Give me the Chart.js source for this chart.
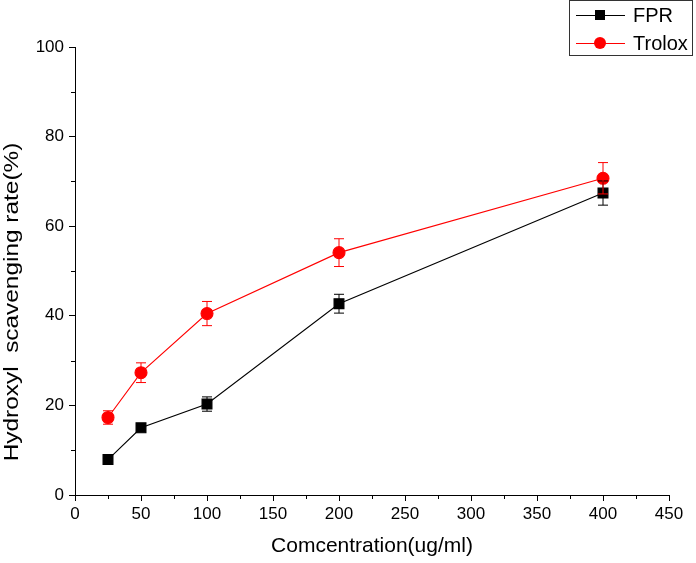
<!DOCTYPE html>
<html>
<head>
<meta charset="utf-8">
<script src="https://cdn.jsdelivr.net/npm/chart.js@4/dist/chart.umd.min.js"></script>
<style>
  html, body { margin: 0; padding: 0; background: #fff; }
  #wrap { width: 696px; height: 563px; }
</style>
</head>
<body>
<div id="wrap"><canvas id="chart" width="696" height="563"></canvas></div>
<script>
// concentrations (ug/ml)
const concentrations = [25, 50, 100, 200, 400];
// hydroxyl scavenging rate (%)
const fprValues = [7.9, 15.0, 20.3, 42.7, 67.4];
const fprErrors = [0.3, 0.5, 1.6, 2.1, 2.7];
const troloxValues = [17.3, 27.3, 40.5, 54.1, 70.7];
const troloxErrors = [1.5, 2.2, 2.7, 3.1, 3.5];

const xTicks = [0, 50, 100, 150, 200, 250, 300, 350, 400, 450];
const yTicks = [0, 20, 40, 60, 80, 100];
const yTitle = 'Hydroxyl  scavenging rate(%)';

const FONT = 'Liberation Sans, Arial, sans-serif';

const toPoints = (vals) => concentrations.map((c, i) => ({ x: c, y: vals[i] }));

// error bars drawn through the chart scales
const errorBars = {
    id: 'errorBars',
    afterDatasetsDraw(chart) {
        const ctx = chart.ctx;
        const xs = chart.scales.x, ys = chart.scales.y;
        chart.data.datasets.forEach((ds) => {
            ctx.save();
            ctx.strokeStyle = ds.borderColor;
            ctx.lineWidth = 1;
            ds.data.forEach((p, i) => {
                const e = ds.errors[i];
                const px = xs.getPixelForValue(p.x);
                const top = ys.getPixelForValue(p.y + e);
                const bot = ys.getPixelForValue(p.y - e);
                ctx.beginPath();
                ctx.moveTo(px, top); ctx.lineTo(px, bot);
                ctx.moveTo(px - 5, top); ctx.lineTo(px + 5, top);
                ctx.moveTo(px - 5, bot); ctx.lineTo(px + 5, bot);
                ctx.stroke();
            });
            ctx.restore();
        });
    }
};

// minor ticks between the labelled ones, plus the stretched y title
const axisExtras = {
    id: 'axisExtras',
    afterDraw(chart) {
        const ctx = chart.ctx;
        const xs = chart.scales.x, ys = chart.scales.y;
        const area = chart.chartArea;
        ctx.save();
        ctx.strokeStyle = '#000';
        ctx.lineWidth = 1;
        ctx.beginPath();
        for (let v = 25; v < 450; v += 50) {
            const px = Math.round(xs.getPixelForValue(v)) + 0.5;
            ctx.moveTo(px, area.bottom); ctx.lineTo(px, area.bottom + 4);
        }
        for (let v = 10; v < 100; v += 20) {
            const py = Math.round(ys.getPixelForValue(v)) + 0.5;
            ctx.moveTo(area.left, py); ctx.lineTo(area.left - 4, py);
        }
        ctx.stroke();

        // the original figure is stretched vertically, so is its y title
        ctx.translate(12, 302);
        ctx.rotate(-Math.PI / 2);
        ctx.scale(1.22, 1);
        ctx.fillStyle = '#000';
        ctx.font = '20px ' + FONT;
        ctx.textAlign = 'center';
        ctx.textBaseline = 'middle';
        ctx.fillText(yTitle, 0, 0);
        ctx.restore();
    }
};

// legend box with line + marker samples
const legendBox = {
    id: 'legendBox',
    afterDraw(chart) {
        const ctx = chart.ctx;
        const bx = 569, by = 0, bw = 123, bh = 55;
        ctx.save();
        ctx.fillStyle = '#fff';
        ctx.fillRect(bx, by, bw, bh);
        ctx.strokeStyle = '#333';
        ctx.lineWidth = 1;
        ctx.strokeRect(bx + 0.5, by + 0.5, bw, bh);
        chart.data.datasets.forEach((ds, i) => {
            const cy = by + 15 + i * 28;
            ctx.strokeStyle = ds.borderColor;
            ctx.beginPath();
            ctx.moveTo(bx + 7, cy + 0.5); ctx.lineTo(bx + 56, cy + 0.5);
            ctx.stroke();
            ctx.fillStyle = ds.backgroundColor;
            if (ds.pointStyle === 'rect') {
                ctx.fillRect(bx + 26, cy - 5, 10, 10);
            } else {
                ctx.beginPath();
                ctx.arc(bx + 31, cy, 6, 0, Math.PI * 2);
                ctx.fill();
            }
            ctx.fillStyle = '#000';
            ctx.font = '20px ' + FONT;
            ctx.textBaseline = 'middle';
            ctx.fillText(ds.label, bx + 64, cy + 1);
        });
        ctx.restore();
    }
};

new Chart(document.getElementById('chart'), {
    type: 'scatter',
    data: {
        datasets: [{
            label: 'FPR',
            data: toPoints(fprValues),
            errors: fprErrors,
            showLine: true,
            borderColor: '#000',
            backgroundColor: '#000',
            borderWidth: 1.1,
            pointStyle: 'rect',
            pointRadius: 7,
            pointHoverRadius: 7
        }, {
            label: 'Trolox',
            data: toPoints(troloxValues),
            errors: troloxErrors,
            showLine: true,
            borderColor: '#ff0000',
            backgroundColor: '#ff0000',
            borderWidth: 1.1,
            pointStyle: 'circle',
            pointRadius: 6,
            pointHoverRadius: 6
        }]
    },
    options: {
        responsive: false,
        animation: false,
        layout: { padding: { top: 47, right: 27, left: 0, bottom: 0 } },
        plugins: {
            legend: { display: false },
            tooltip: { enabled: false }
        },
        scales: {
            x: {
                type: 'linear',
                min: 0, max: 450,
                afterBuildTicks: (s) => { s.ticks = xTicks.map(v => ({ value: v })); },
                afterFit: (s) => { s.height = 68; },
                grid: { drawOnChartArea: false, color: '#000', tickLength: 6, tickColor: '#000' },
                border: { color: '#000', width: 1 },
                ticks: { color: '#000', font: { family: FONT, size: 17 }, padding: 3, maxRotation: 0 },
                title: { display: true, text: 'Comcentration(ug/ml)', color: '#000', font: { family: FONT, size: 21 }, padding: { top: 7 } }
            },
            y: {
                type: 'linear',
                min: 0, max: 100,
                afterBuildTicks: (s) => { s.ticks = yTicks.map(v => ({ value: v })); },
                afterFit: (s) => { s.width = 75; },
                grid: { drawOnChartArea: false, color: '#000', tickLength: 6, tickColor: '#000' },
                border: { color: '#000', width: 1 },
                ticks: { color: '#000', font: { family: FONT, size: 17 }, padding: 5 },
                title: { display: false }
            }
        }
    },
    plugins: [errorBars, axisExtras, legendBox]
});
</script>
</body>
</html>
